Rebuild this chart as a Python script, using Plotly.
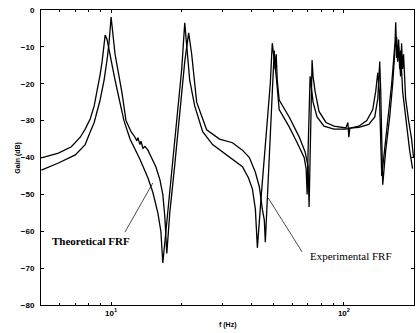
import plotly.graph_objects as go
import math

# Theoretical FRF (frequency in Hz, gain in dB)
theo_f = [5.02, 5.94, 6.75, 7.37, 7.74, 8.14, 8.46, 8.71, 8.97, 9.15, 9.30, 9.43, 9.61,
          9.80, 10.0, 10.2, 10.40, 10.82, 11.36, 12.06, 13.30, 14.39, 15.12, 15.88,
          16.36, 16.68, 17.52, 18.41, 19.33, 20.11, 20.72, 21.34, 21.76, 22.86, 24.74,
          27.29, 30.10, 33.21, 36.66, 38.88, 40.45, 41.66, 42.49, 44.19, 45.51, 46.87,
          48.28, 49.23, 51.20, 52.73, 58.21, 62.98, 67.48, 68.82, 69.50, 70.19, 71.0,
          71.57, 73.70, 76.66, 82.12, 90.64, 101.98, 115.9, 125.4, 133.0, 137.0, 139.8,
          141.9, 143.9, 145.4, 148.3, 154.2, 160.4, 165.2, 168.5, 170.2, 171.8, 173.5,
          175.2, 178.7, 185.9, 191.5, 197.2]
theo_db = [-40.1, -38.8, -37.1, -34.5, -32.3, -29.5, -26, -22, -17.5, -14, -10.5, -6.8, -8,
           -11, -14, -16.5, -19, -24, -30, -35, -40.5, -45.5, -49.5, -55,
           -60, -68.6, -55, -42, -28, -16, -3.5, -12, -19, -26, -33,
           -36.5, -38.5, -40.5, -42.5, -45.5, -48.5, -54, -64.5, -50, -40, -30,
           -20, -9, -18, -27, -31.7, -36, -40, -43, -50, -38, -25,
           -18, -25, -29, -31.5, -32.3, -32.3, -31.5, -30, -27, -22, -17,
           -22, -35, -45, -40, -30, -20, -10, -7.3, -14, -8, -16,
           -11, -22, -32, -38, -43]

# Experimental FRF
exp_f = [5.02, 5.94, 7.02, 7.74, 8.14, 8.46, 8.97, 9.33, 9.61, 9.80, 10.0, 10.20, 10.40,
         10.61, 11.14, 11.59, 12.18, 12.67, 12.91, 13.04, 13.30, 13.44, 13.70, 13.98,
         14.39, 15.57, 16.20, 16.68, 17.01, 17.35, 17.87, 18.77, 19.72, 20.72, 21.54,
         22.19, 23.31, 25.73, 29.23, 33.21, 36.66, 39.26, 41.66, 43.34, 44.63, 45.51,
         45.96, 46.87, 47.80, 48.75, 49.72, 50.21, 50.70, 51.20, 51.71, 52.73, 58.21,
         64.24, 68.14, 70.19, 70.87, 71.57, 72.28, 72.99, 73.70, 75.17, 78.18, 83.76,
         90.64, 101.98, 104.0, 105.0, 106.1, 115.9, 127.9, 135.7, 139.8, 142.5, 143.9,
         145.4, 146.8, 151.2, 157.3, 162.0, 165.2, 166.9, 168.5, 171.8, 175.2, 176.9,
         178.7, 180.4, 184.1, 189.6, 195.3, 199.1]
exp_db = [-43.4, -41.5, -39.3, -36.5, -33, -30.5, -24.4, -19, -13.5, -9, -1.9, -8, -12,
          -15, -22.5, -30, -33, -34.5, -35.5, -34.6, -36.5, -35.6, -37.5, -37,
          -38, -42.5, -46, -50, -56, -66, -55, -42, -28, -14, -6.2,
          -12, -25, -32.5, -35, -36, -38, -40, -44, -48, -54, -57,
          -63, -52, -42, -30, -20, -11, -16, -12, -19, -24.4, -29,
          -34.4, -38.5, -42.5, -53.4, -40, -25, -13.6, -18, -22, -27.5, -30.5,
          -31.5, -32, -30.5, -34.5, -32, -31.8, -31, -29, -24, -14, -22,
          -35, -47.4, -38, -29, -20, -12, -3.3, -13, -10, -18, -9,
          -16, -12, -24, -30, -35, -40]

y_ticks = [0, -10, -20, -30, -40, -50, -60, -70, -80]
x_ticks = [10, 100]
x_ticktext = ["10<sup>1</sup>", "10<sup>2</sup>"]
x_minor = [6, 7, 8, 9, 20, 30, 40, 50, 60, 70, 80, 90, 200]

fig = go.Figure()
fig.add_trace(go.Scatter(x=exp_f, y=exp_db, mode="lines",
                         line=dict(color="black", width=1.3), name="Experimental FRF"))
fig.add_trace(go.Scatter(x=theo_f, y=theo_db, mode="lines",
                         line=dict(color="black", width=1.3), name="Theoretical FRF"))

tickfont = dict(family="Liberation Sans", size=8, color="black", weight="bold")

fig.update_layout(
    width=416, height=333,
    margin=dict(l=41, r=2, t=10, b=28),
    paper_bgcolor="white", plot_bgcolor="white",
    showlegend=False,
    xaxis=dict(type="log", range=[math.log10(5.0), math.log10(200)],
               showline=True, linecolor="black", linewidth=1, mirror="ticks",
               ticks="inside", ticklen=3, tickcolor="black",
               tickvals=x_ticks, ticktext=x_ticktext, tickfont=tickfont,
               showgrid=False, zeroline=False,
               minor=dict(ticks="inside", ticklen=2, tickcolor="black",
                          tickvals=x_minor, showgrid=False)),
    yaxis=dict(range=[-80, 0], tickvals=y_ticks,
               showline=True, linecolor="black", linewidth=1, mirror="ticks",
               ticks="inside", ticklen=3, tickcolor="black",
               tickfont=tickfont, ticklabelstandoff=4,
               showgrid=False, zeroline=False),
)

fig.add_annotation(text="Theoretical FRF", xref="paper", yref="paper",
                   x=0.134, y=0.217, showarrow=False, xanchor="center", yanchor="middle",
                   font=dict(family="Liberation Serif", size=11, color="black", weight="bold"))
fig.add_annotation(text="Experimental FRF", xref="paper", yref="paper",
                   x=0.831, y=0.166, showarrow=False, xanchor="center", yanchor="middle",
                   font=dict(family="Liberation Serif", size=11, color="black"))
fig.add_shape(type="line", xref="paper", yref="paper",
              x0=0.225, y0=0.247, x1=0.300, y1=0.414,
              line=dict(color="black", width=0.7))
fig.add_shape(type="line", xref="paper", yref="paper",
              x0=0.609, y0=0.363, x1=0.700, y1=0.180,
              line=dict(color="black", width=0.7))
fig.add_annotation(text="f (Hz)", xref="paper", yref="paper",
                   x=0.5, y=-0.068, showarrow=False, xanchor="center", yanchor="middle",
                   font=dict(family="Liberation Sans", size=7, color="black", weight="bold"))
fig.add_annotation(text="Gain (dB)", xref="paper", yref="paper",
                   x=-0.064, y=0.50, showarrow=False, textangle=-90,
                   xanchor="center", yanchor="middle",
                   font=dict(family="Liberation Sans", size=7, color="black", weight="bold"))

fig.write_html("out.html")
